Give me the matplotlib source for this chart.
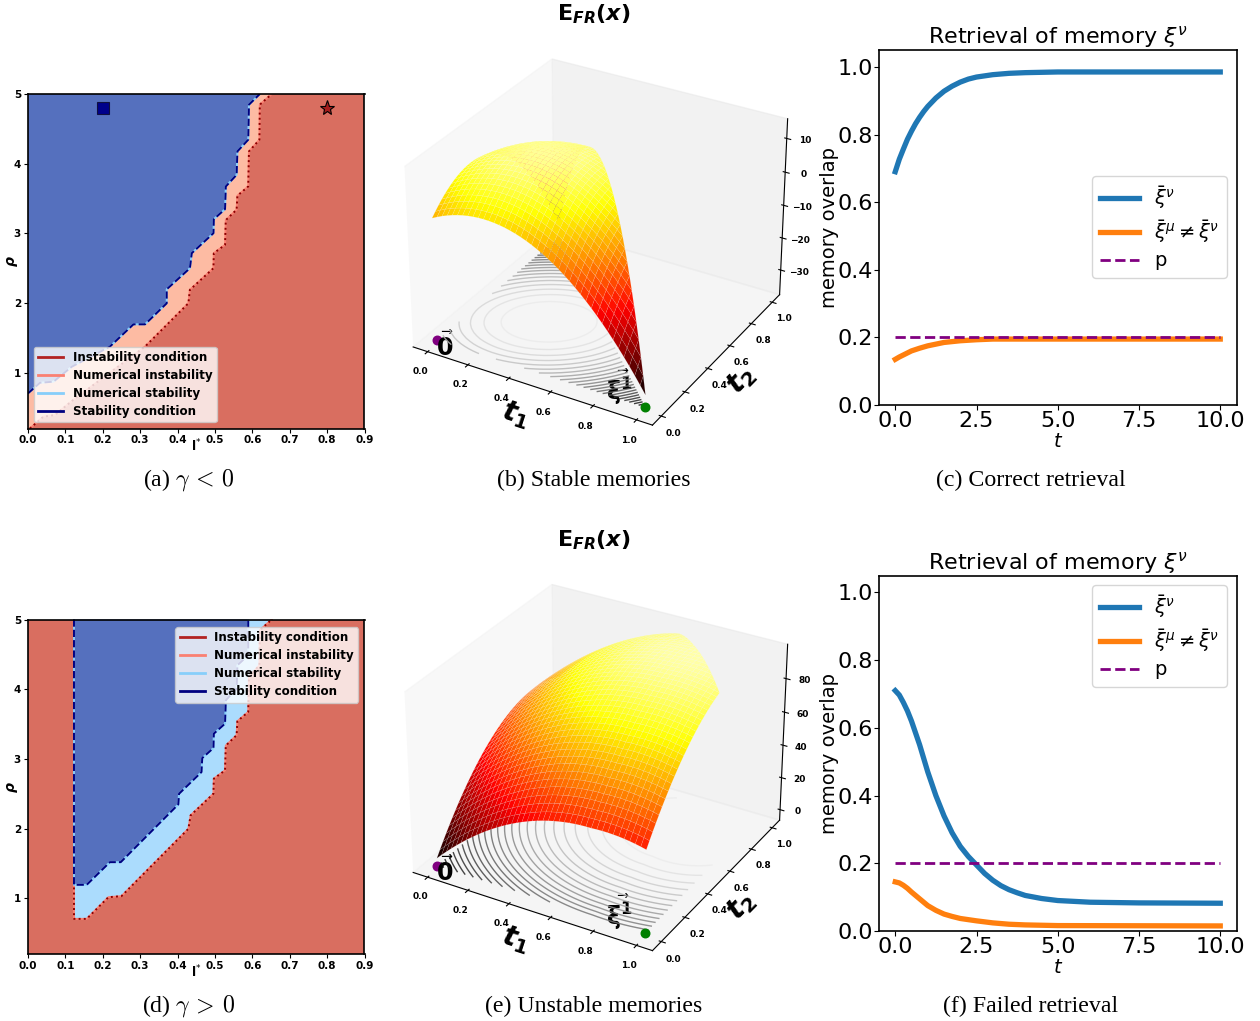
import numpy as np
import matplotlib
matplotlib.use("Agg")
import matplotlib.pyplot as plt

plt.rcParams['axes3d.automargin'] = True
plt.rcParams['mathtext.fontset'] = 'dejavusans'

W, H = 1260, 1021

# ---- phase diagrams ----
a_stab_x = [0, .032, .068, .117, .219, .282, .313, .371, .371, .433, .438, .496, .497, .527, .529, .558, .560, .589, .591, .62]
a_stab_y = [.704, .857, .872, 1.087, 1.375, 1.695, 1.695, 1.997, 2.198, 2.5, 2.716, 3.003, 3.204, 3.348, 3.673, 3.841, 4.176, 4.344, 4.847, 5.0]
a_inst_x = [.005, .041, .072, .121, .313, .429, .433, .496, .497, .527, .529, .558, .56, .589, .591, .619, .62, .652]
a_inst_y = [.2, .369, .393, .61, 1.375, 1.997, 2.19, 2.5, 2.716, 2.835, 3.19, 3.34, 3.54, 3.673, 4.176, 4.344, 4.847, 5.0]
d_stab_x = [.123, .123, .157, .219, .248, .402, .404, .464, .466, .496, .497, .527, .529, .558, .56, .589, .589]
d_stab_y = [5, 1.193, 1.193, 1.518, 1.518, 2.347, 2.5, 2.811, 3.012, 3.156, 3.362, 3.506, 3.841, 4.009, 4.344, 4.488, 5]
d_inst_x = [.123, .123, .157, .215, .25, .429, .435, .496, .497, .527, .529, .558, .56, .589, .591, .619, .62, .652]
d_inst_y = [5, .704, .704, 1.015, 1.03, 1.997, 2.19, 2.5, 2.716, 2.835, 3.19, 3.34, 3.54, 3.673, 4.176, 4.344, 4.847, 5]
legend_names = ['Instability condition', 'Numerical instability', 'Numerical stability', 'Stability condition']

# ---- energy surfaces: estimated profiles along t1 and t2, and t1*t2 coupling ----
t_nodes = [0, .025, .05, .075, .1, .125, .15, .175, .2, .225, .25, .275, .3, .325, .35, .375, .4, .425, .45, .475, .5,
           .525, .55, .575, .6, .625, .65, .675, .7, .725, .75, .775, .8, .825, .85, .875, .9, .925, .95, .975, 1]
b_t1 = [0, .78, 1.49, 2.10, 2.64, 3.09, 3.47, 3.75, 3.96, 4.08, 4.13, 4.08, 3.96, 3.75, 3.47, 3.09, 2.64, 2.10, 1.49, .78,
        0, -.87, -1.82, -2.85, -3.96, -5.16, -6.44, -7.80, -9.24, -10.77, -12.38, -14.07, -15.84, -17.70, -19.64, -21.66, -23.76, -25.95, -28.22, -30.57, -33]
b_t2 = [0, 1.19, 2.27, 3.25, 4.13, 4.90, 5.57, 6.14, 6.60, 6.96, 7.22, 7.37, 7.43, 7.37, 7.22, 6.96, 6.60, 6.14, 5.57, 4.90,
        4.13, 3.25, 2.27, 1.19, 0, -1.29, -2.68, -4.18, -5.78, -7.48, -9.28, -11.19, -13.2, -15.31, -17.53, -19.85, -22.28, -24.80, -27.43, -30.16, -33]
b_coupling = 30
e_t1 = [0, 3.10, 6.09, 8.98, 11.76, 14.44, 17.01, 19.48, 21.84, 24.10, 26.25, 28.30, 30.24, 32.08, 33.81, 35.44, 36.96, 38.38, 39.69, 40.90,
        42, 43.00, 43.89, 44.68, 45.36, 45.94, 46.41, 46.78, 47.04, 47.20, 47.25, 47.45, 47.54, 47.53, 47.41, 47.19, 46.86, 46.43, 45.89, 45.25, 44.5]
e_t2 = [0, 3.49, 6.87, 10.13, 13.28, 16.31, 19.23, 22.03, 24.72, 27.29, 29.75, 32.09, 34.32, 36.43, 38.43, 40.31, 42.08, 43.73, 45.27, 46.69,
        48, 49.19, 50.27, 51.23, 52.08, 52.81, 53.43, 53.93, 54.32, 54.59, 54.75, 54.79, 54.72, 54.53, 54.23, 53.81, 53.28, 52.63, 51.87, 51.00, 50]
e_coupling = 0

# ---- retrieval curves ----
c_t_blue = [0, .125, .25, .375, .5, .625, .75, .875, 1, 1.25, 1.5, 1.75, 2, 2.25, 2.5, 3, 3.5, 4, 5, 7.5, 10]
c_blue = [.69, .727, .757, .786, .81, .832, .851, .868, .883, .908, .928, .943, .955, .964, .97, .977, .981, .983, .985, .985, .985]
c_t_orange = [0, .125, .25, .5, .75, 1, 1.25, 1.5, 2, 2.5, 3, 5, 10]
c_orange = [.135, .142, .148, .16, .168, .175, .18, .185, .19, .193, .195, .195, .195]
f_t_blue = [0, .125, .25, .375, .5, .625, .75, .875, 1, 1.125, 1.25, 1.375, 1.5, 1.75, 2, 2.25, 2.5, 2.75, 3, 3.25, 3.5, 3.75, 4, 4.5, 5, 6, 7.5, 10]
f_blue = [.71, .697, .675, .65, .62, .585, .55, .51, .47, .435, .4, .37, .34, .29, .25, .22, .195, .17, .15, .134, .122, .113, .105, .096, .09, .085, .083, .082]
f_t_orange = [0, .125, .25, .375, .5, .75, 1, 1.25, 1.5, 1.75, 2, 2.5, 3, 3.5, 4, 5, 10]
f_orange = [.145, .142, .135, .126, .115, .095, .075, .061, .05, .043, .037, .03, .024, .02, .018, .016, .015]
p_t = [0, 10]
p_val = [.2, .2]
captions = ['(a) $\\gamma\\,<\\,0$', '(b) Stable memories', '(c) Correct retrieval',
            '(d) $\\gamma\\,>\\,0$', '(e) Unstable memories', '(f) Failed retrieval']

fig = plt.figure(figsize=(W / 100, H / 100), dpi=100)


def rect(l, t, r, b):
    return [l / W, 1 - b / H, (r - l) / W, (b - t) / H]


def phase(r, sx, sy, ix, iy, mid, loc, anchor, marks):
    ax = fig.add_axes(r)
    ax.set_facecolor('#D96E60')
    ax.set_xlim(0, .9)
    ax.set_ylim(.2, 5)
    if ix[0] > .05:
        ax.fill(ix, iy, color=mid, lw=0)
    else:
        ax.fill([0] + ix + [0], [.2] + iy + [5], color=mid, lw=0)
    if sx[0] == 0:
        ax.fill([0] + sx + [0], [sy[0]] + sy + [5], color='#5570BE', lw=0)
    else:
        ax.fill(sx, sy, color='#5570BE', lw=0)
    ax.plot(ix, iy, color='#FA8072', lw=1.4)
    ax.plot(ix, iy, color='#8B0000', lw=1.4, ls=':')
    ax.plot(sx, sy, color='#87CEFA', lw=1.4)
    ax.plot(sx, sy, color='#000080', lw=1.4, ls='--')
    cols = ['#B22222', '#FA8072', '#87CEFA', '#000080']
    hs = [plt.Line2D([], [], color=c, lw=2) for c in cols]
    ax.legend(hs, legend_names, loc=loc, bbox_to_anchor=anchor, borderaxespad=0,
              prop={'weight': 'bold', 'size': 8.6}, framealpha=.8, labelspacing=.42, borderpad=.35, handlelength=2.1)
    if marks:
        ax.plot([.2], [4.8], 's', color='#00008B', ms=9, mec='#101040', mew=.8)
        ax.plot([.8], [4.8], '*', color='#A51C1C', ms=11, mec='k', mew=.8)
    ax.set_xticks(np.arange(0, .91, .1))
    ax.set_yticks([1, 2, 3, 4, 5])
    ax.tick_params(labelsize=7.5, length=3, pad=2)
    for l in ax.get_xticklabels() + ax.get_yticklabels():
        l.set_fontweight('bold')
    ax.set_xlabel('l$^{*}$', fontweight='bold', fontsize=9)
    ax.set_ylabel(r'$\boldsymbol{\rho}$', fontweight='bold', fontsize=10)
    ax.xaxis.set_label_coords(.5, -.028)
    ax.yaxis.set_label_coords(-.025, .5)
    for s in ax.spines.values():
        s.set_linewidth(1.2)
    return ax


phase(rect(28, 94, 364.5, 428.5), a_stab_x, a_stab_y, a_inst_x, a_inst_y, '#FDBBA3', 'lower left', (.018, .019), True)
phase(rect(28, 619.5, 364.5, 954), d_stab_x, d_stab_y, d_inst_x, d_inst_y, '#ABDCFD', 'upper right', (.981, .977), False)


def surface(r, pt1, pt2, coupling, limit, zlim, zticks, vmax, title_y):
    ax = fig.add_axes(r, projection='3d')
    ax.patch.set_alpha(0)
    T1, T2 = np.meshgrid(t_nodes, t_nodes, indexing='ij')
    Z = np.add.outer(pt1, pt2) + coupling * T1 * T2
    Z = np.where(T1 + T2 <= limit + 1e-9, Z, np.nan)
    ax.plot_surface(T1, T2, Z, rstride=1, cstride=1, cmap='hot', vmin=np.nanmin(Z), vmax=vmax,
                    linewidth=.3, edgecolor=(1, 1, 1, .22), antialiased=True)
    ax.contour(T1, T2, np.ma.masked_invalid(Z), levels=28, zdir='z', offset=zlim[0], cmap='gray', linewidths=1, alpha=.85)
    ax.scatter([0], [0], [zlim[0]], color='purple', s=38, depthshade=False)
    ax.scatter([1], [0], [zlim[0]], color='green', s=38, depthshade=False)
    span = zlim[1] - zlim[0]
    ax.text(.03, -.05, zlim[0] + .01 * span, r'$\vec{\mathbf{0}}$', fontsize=17, fontweight='bold', ha='left', va='center')
    ax.text(.87, .02, zlim[0] + .05 * span, r'$\vec{\mathbf{\xi}^{\mathbf{1}}}$', fontsize=17, ha='center', va='center', rotation=25)
    ax.set_xlim(-.05, 1.05)
    ax.set_ylim(-.05, 1.05)
    ax.set_zlim(*zlim)
    ax.set_xticks([0, .2, .4, .6, .8, 1])
    ax.set_yticks([0, .2, .4, .6, .8, 1])
    ax.set_zticks(zticks)
    ax.tick_params(labelsize=6.5, pad=0)
    for l in ax.get_xticklabels() + ax.get_yticklabels() + ax.get_zticklabels():
        l.set_fontweight('bold')
    ax.grid(False)
    ax.set_xlabel(r'$\mathbfit{t}_{\mathbf{1}}$', fontsize=20, labelpad=-6)
    ax.set_ylabel(r'$\mathbfit{t}_{\mathbf{2}}$', fontsize=20, labelpad=-6)
    ax.zaxis.get_offset_text().set_visible(False)
    ax.zaxis.label.set_visible(False)
    ax.view_init(elev=30, azim=-60)
    fig.text(594 / W, 1 - title_y / H, r'$\mathbf{E}_{\mathbfit{FR}}\mathbf{(}\mathbfit{x}\mathbf{)}$', fontsize=16, ha='center', va='center')
    return ax


surface(rect(381, 26, 807, 452), b_t1, b_t2, b_coupling, 1.0, (-36.7, 14.7), [-30, -20, -10, 0, 10], 20, 14)
surface(rect(381, 551.5, 807, 977.5), e_t1, e_t2, e_coupling, 1.6, (-4.5, 98), [0, 20, 40, 60, 80], 112, 540)


def retrieval(r, tb, b, to, o, legloc, anchor):
    ax = fig.add_axes(r)
    ax.plot(tb, b, color='#1F77B4', lw=3.8, label=r'$\bar{\xi}^{\nu}$')
    ax.plot(to, o, color='#FF7F0E', lw=3.8, label=r'$\bar{\xi}^{\mu}\neq\bar{\xi}^{\nu}$')
    ax.plot(p_t, p_val, color='purple', lw=2, ls='--', label='p')
    ax.set_xlim(-.5, 10.5)
    ax.set_ylim(0, 1.05)
    ax.set_xticks([0, 2.5, 5, 7.5, 10])
    ax.set_yticks([0, .2, .4, .6, .8, 1])
    ax.tick_params(labelsize=16, pad=1)
    ax.set_xlabel('$t$', fontsize=14, labelpad=0.5)
    ax.set_ylabel('memory overlap', fontsize=14, labelpad=-1)
    ax.set_title(r'Retrieval of memory $\xi^{\nu}$', fontsize=16, pad=1)
    ax.legend(loc=legloc, bbox_to_anchor=anchor, borderaxespad=0, fontsize=14, labelspacing=.35, handlelength=2.0)
    for s in ax.spines.values():
        s.set_linewidth(1.2)


retrieval(rect(879, 50, 1236.5, 405), c_t_blue, c_blue, c_t_orange, c_orange, 'center right', (.973, .501))
retrieval(rect(879, 575.5, 1236.5, 931), f_t_blue, f_blue, f_t_orange, f_orange, 'upper right', (.973, .973))

cap_x = [189, 594, 1031, 189, 594, 1031]
cap_y = [480, 480, 480, 1006, 1006, 1006]
for s, x, y in zip(captions, cap_x, cap_y):
    fig.text(x / W, 1 - y / H, s, family='Liberation Serif', fontsize=17.2, ha='center', va='center', math_fontfamily='cm')

fig.savefig('out.png', dpi=100)
